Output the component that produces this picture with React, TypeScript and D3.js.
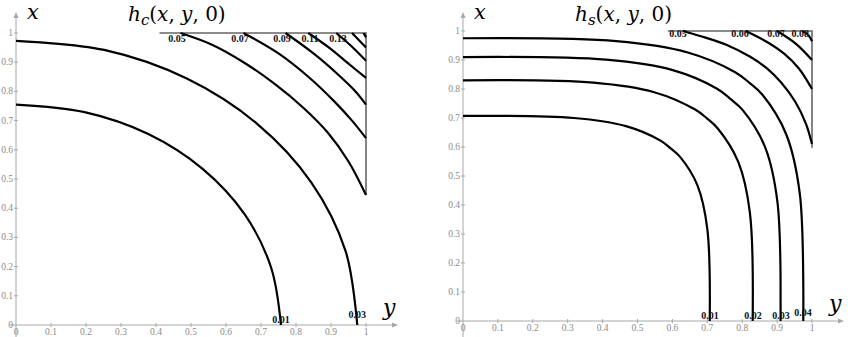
import { useEffect, useRef } from "react";
import * as d3 from "d3";

// points are [y, x]: y runs across, x runs up
type Pt = [number, number];

const tickValues = [0, 0.1, 0.2, 0.3, 0.4, 0.5, 0.6, 0.7, 0.8, 0.9, 1];
const tickLabels = ["0", "0.1", "0.2", "0.3", "0.4", "0.5", "0.6", "0.7", "0.8", "0.9", "1"];

// h_c contours
const hcLevels = ["0.01", "0.03", "0.05", "0.07", "0.09", "0.11", "0.13", "0.15"];
const hc001: Pt[] = [[0, 0.755], [0.196, 0.729], [0.378, 0.654], [0.534, 0.534], [0.654, 0.378], [0.729, 0.196], [0.757, 0]];
const hc003: Pt[] = [[0, 0.973], [0.252, 0.942], [0.488, 0.844], [0.689, 0.689], [0.844, 0.488], [0.942, 0.252], [0.975, 0]];
const hc005: Pt[] = [[0.47, 1], [0.56, 0.96], [0.65, 0.9], [0.74, 0.825], [0.82, 0.745], [0.89, 0.66], [0.95, 0.56], [1, 0.445]];
const hc007: Pt[] = [[0.65, 1], [0.75, 0.93], [0.84, 0.845], [0.91, 0.765], [0.96, 0.7], [1, 0.64]];
const hc009: Pt[] = [[0.77, 1], [0.85, 0.93], [0.92, 0.858], [0.97, 0.8], [1, 0.755]];
const hc011: Pt[] = [[0.835, 1], [0.9, 0.945], [0.95, 0.895], [1, 0.846]];
const hc013: Pt[] = [[0.915, 1], [0.96, 0.953], [1, 0.905]];
const hc015: Pt[] = [[0.96, 1], [0.98, 0.975], [1, 0.95]];
const hc017: Pt[] = [[0.993, 1], [1, 0.985]];
const hcCurves = [hc001, hc003, hc005, hc007, hc009, hc011, hc013, hc015, hc017];
const hcLabelAt: Pt[] = [[0.757, 0.007], [0.975, 0.024], [0.46, 0.969], [0.64, 0.969], [0.76, 0.969], [0.84, 0.969], [0.92, 0.969]];
const hcFrame: Pt[] = [[0.41, 1], [1, 1], [1, 0.445]];

// h_s contours
const hsLevels = ["0.01", "0.02", "0.03", "0.04", "0.05", "0.06", "0.07", "0.08"];
const hs001: Pt[] = [[0, 0.707], [0.318, 0.7], [0.467, 0.672], [0.566, 0.622], [0.595, 0.595], [0.622, 0.566], [0.672, 0.467], [0.7, 0.318], [0.707, 0]];
const hs002: Pt[] = [[0, 0.83], [0.374, 0.822], [0.548, 0.789], [0.664, 0.73], [0.699, 0.699], [0.73, 0.664], [0.789, 0.548], [0.822, 0.374], [0.83, 0]];
const hs003: Pt[] = [[0, 0.91], [0.41, 0.901], [0.601, 0.865], [0.728, 0.801], [0.766, 0.766], [0.801, 0.728], [0.865, 0.601], [0.901, 0.41], [0.91, 0]];
const hs004: Pt[] = [[0, 0.975], [0.439, 0.965], [0.644, 0.926], [0.78, 0.858], [0.821, 0.821], [0.858, 0.78], [0.926, 0.644], [0.965, 0.439], [0.975, 0]];
const hs005: Pt[] = [[0.63, 1], [0.679, 0.983], [0.756, 0.952], [0.823, 0.911], [0.871, 0.871], [0.911, 0.823], [0.952, 0.756], [0.983, 0.679], [1, 0.61]];
const hs006: Pt[] = [[0.81, 1], [0.87, 0.963], [0.921, 0.921], [0.963, 0.87], [1, 0.8]];
const hs007: Pt[] = [[0.9, 1], [0.955, 0.955], [1, 0.9]];
const hs008: Pt[] = [[0.972, 1], [0.988, 0.988], [1, 0.965]];
const hsCurves = [hs001, hs002, hs003, hs004, hs005, hs006, hs007, hs008];
const hsLabelAt: Pt[] = [[0.708, 0.007], [0.831, 0.007], [0.911, 0.007], [0.974, 0.017], [0.616, 0.979], [0.794, 0.979], [0.897, 0.979], [0.966, 0.979]];
const hsFrame: Pt[] = [[0.587, 1], [1, 1], [1, 0.597]];

type PanelCfg = {
  left: number;
  right: number;
  top: number;
  bottom: number;
  sub: string;
  curves: Pt[][];
  levels: string[];
  labelAt: Pt[];
  frame: Pt[];
};

const AXIS = "#a8a8a8";
const TICK_TEXT = "#8a8a8a";
const SERIF = "Liberation Serif, DejaVu Serif, Times New Roman, serif";
const MATH = "DejaVu Serif, Liberation Serif, serif";

function drawPanel(g: d3.Selection<SVGGElement, unknown, null, undefined>, c: PanelCfg) {
  const sx = d3.scaleLinear().domain([0, 1]).range([c.left, c.right]);
  const sy = d3.scaleLinear().domain([0, 1]).range([c.bottom, c.top]);
  const x0 = sx(0);
  const y0 = sy(0);

  // axes
  g.append("line").attr("x1", x0 - 6).attr("x2", c.right + 30).attr("y1", y0).attr("y2", y0)
    .attr("stroke", AXIS).attr("stroke-width", 1);
  g.append("line").attr("x1", x0).attr("x2", x0).attr("y1", 337).attr("y2", 14)
    .attr("stroke", AXIS).attr("stroke-width", 1);
  g.append("path")
    .attr("d", `M${c.right + 32},${y0} l-6,-2.5 l0,5 z`)
    .attr("fill", AXIS);
  g.append("path")
    .attr("d", `M${x0},12 l-2.5,6 l5,0 z`)
    .attr("fill", AXIS);

  tickValues.forEach((t, i) => {
    if (i > 0) {
      g.append("line").attr("x1", sx(t)).attr("x2", sx(t)).attr("y1", y0 - 2).attr("y2", y0 + 2)
        .attr("stroke", AXIS);
      g.append("line").attr("x1", x0 - 2).attr("x2", x0 + 2).attr("y1", sy(t)).attr("y2", sy(t))
        .attr("stroke", AXIS);
    }
    g.append("text").attr("x", sx(t)).attr("y", y0 + 10).attr("text-anchor", "middle")
      .style("font-family", SERIF).attr("font-size", 9.5).attr("fill", TICK_TEXT).text(tickLabels[i]);
    g.append("text").attr("x", x0 - 3).attr("y", sy(t) + 3).attr("text-anchor", "end")
      .style("font-family", SERIF).attr("font-size", 9.5).attr("fill", TICK_TEXT).text(tickLabels[i]);
  });

  const line = d3.line<Pt>().x((d) => sx(d[0])).y((d) => sy(d[1]));

  g.append("path").attr("d", line(c.frame)).attr("fill", "none")
    .attr("stroke", "#666").attr("stroke-width", 1.6);

  const curve = d3.line<Pt>().x((d) => sx(d[0])).y((d) => sy(d[1])).curve(d3.curveCatmullRom.alpha(0.5));
  c.curves.forEach((pts) => {
    g.append("path").attr("d", curve(pts)).attr("fill", "none")
      .attr("stroke", "#000").attr("stroke-width", 2.2);
  });

  c.labelAt.forEach((p, i) => {
    g.append("text").attr("x", sx(p[0])).attr("y", sy(p[1])).attr("text-anchor", "middle")
      .style("font-family", SERIF).attr("font-weight", "bold").attr("font-size", 10)
      .attr("fill", "#111").text(c.levels[i]);
  });

  // titles
  g.append("text").attr("x", x0 + 11).attr("y", 19).style("font-family", MATH)
    .attr("font-style", "italic").attr("font-size", 21).text("x");
  const t = g.append("text").attr("x", x0 + 112).attr("y", 21).style("font-family", MATH).attr("font-size", 20);
  t.append("tspan").attr("font-style", "italic").text("h");
  t.append("tspan").attr("font-style", "italic").attr("font-size", 15).attr("dy", 4).text(c.sub);
  t.append("tspan").attr("dy", -4).text("(");
  t.append("tspan").attr("font-style", "italic").text("x");
  t.append("tspan").text(", ");
  t.append("tspan").attr("font-style", "italic").text("y");
  t.append("tspan").text(", 0)");

  g.append("text").attr("x", c.right + 17).attr("y", y0 - 10).style("font-family", MATH)
    .attr("font-style", "italic").attr("font-size", 22).text("y");
}

export default function App() {
  const svgRef = useRef<SVGSVGElement>(null);

  useEffect(() => {
    const svg = d3.select(svgRef.current);
    svg.selectAll("*").remove();
    drawPanel(svg.append("g"), {
      left: 16, right: 366, top: 33, bottom: 325, sub: "c",
      curves: hcCurves, levels: hcLevels, labelAt: hcLabelAt, frame: hcFrame,
    });
    drawPanel(svg.append("g"), {
      left: 463, right: 812, top: 31, bottom: 321, sub: "s",
      curves: hsCurves, levels: hsLevels, labelAt: hsLabelAt, frame: hsFrame,
    });
  }, []);

  return (
    <svg
      ref={svgRef}
      width={848}
      height={337}
      style={{ position: "absolute", left: 0, top: 0, background: "#fff" }}
    />
  );
}
